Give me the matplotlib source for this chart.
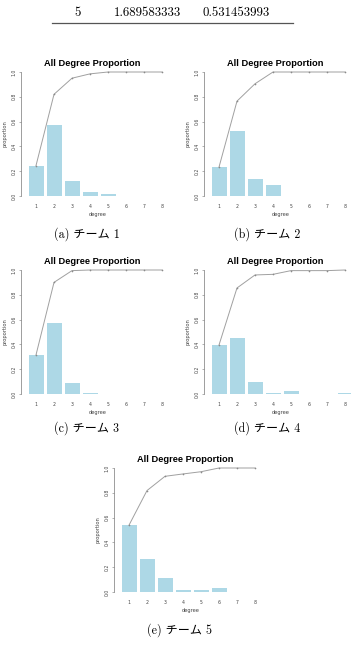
import numpy as np
import matplotlib
matplotlib.use("Agg")
import matplotlib.pyplot as plt

W, H = 351, 652

degrees = [1, 2, 3, 4, 5, 6, 7, 8]
captions = ["(a) チーム 1", "(b) チーム 2", "(c) チーム 3", "(d) チーム 4", "(e) チーム 5"]

# proportion of each degree (bars) and running total (line), one list per team
prop_a = [0.245, 0.570, 0.125, 0.035, 0.015, 0.0, 0.0, 0.0]
cum_a = [0.245, 0.820, 0.950, 0.985, 1.0, 1.0, 1.0, 1.0]
prop_b = [0.233, 0.523, 0.140, 0.091, 0.0, 0.0, 0.0, 0.0]
cum_b = [0.233, 0.765, 0.905, 1.0, 1.0, 1.0, 1.0, 1.0]
prop_c = [0.315, 0.573, 0.086, 0.008, 0.0, 0.0, 0.0, 0.0]
cum_c = [0.315, 0.900, 0.995, 1.0, 1.0, 1.0, 1.0, 1.0]
prop_d = [0.395, 0.452, 0.094, 0.005, 0.022, 0.0, 0.0, 0.005]
cum_d = [0.395, 0.855, 0.960, 0.965, 0.995, 0.995, 0.995, 1.0]
prop_e = [0.539, 0.268, 0.115, 0.013, 0.013, 0.030, 0.0, 0.0]
cum_e = [0.539, 0.818, 0.933, 0.952, 0.970, 1.0, 1.0, 1.0]

# table row above the figures
table_row = ["5", "1.689583333", "0.531453993"]

props = [prop_a, prop_b, prop_c, prop_d, prop_e]
cums = [cum_a, cum_b, cum_c, cum_d, cum_e]

# pixel anchors: x of the "1" tick, y of the 0.0 tick
anchors = [(36, 196), (219, 196), (36, 394), (219, 394), (129, 592)]
caption_xy = [(87, 234), (267, 234), (86, 428), (267, 428), (180, 630)]

STEP = 18     # px per degree
UNIT = 124    # px for proportion 0 -> 1
serif = ["cmr10", "Noto Sans CJK JP"]

fig = plt.figure(figsize=(W / 100, H / 100), dpi=100)


def fx(p):
    return p / W


def fy(p):
    return 1 - p / H


# table text and rule
for txt, x in zip(table_row, [78, 148, 236]):
    fig.text(fx(x), fy(13), txt, ha="center", va="center", fontsize=9.2, family=serif)
fig.add_artist(plt.Line2D([fx(52), fx(293)], [fy(23), fy(23)], color="#555555", lw=0.9))

for (t1, z), prop, cum, cap, (cx, cy) in zip(anchors, props, cums, captions, caption_xy):
    left_px = t1 - 15
    right_px = t1 + 7 * STEP + 13
    pad = 0.04
    bot_px = z + pad * UNIT
    top_px = z - (1 + pad) * UNIT
    ax = fig.add_axes([fx(left_px), fy(bot_px), (right_px - left_px) / W, (bot_px - top_px) / H])
    ax.set_xlim(1 - 15 / STEP, 8 + 13 / STEP)
    ax.set_ylim(-pad, 1 + pad)

    ax.bar(degrees, prop, width=15 / STEP, color="#add8e6", edgecolor="none")
    ax.plot(degrees, cum, color="#a0a0a0", lw=0.7, marker="o", ms=1.2, mfc="#8a8a8a", mec="none")

    for s in ["top", "right", "bottom"]:
        ax.spines[s].set_visible(False)
    ax.spines["left"].set_bounds(0, 1)
    ax.spines["left"].set_color("#777777")
    ax.spines["left"].set_linewidth(0.5)

    ax.set_xticks(degrees)
    ax.set_xticklabels([str(d) for d in degrees], fontsize=3.3, color="#444444")
    ax.tick_params(axis="x", length=0, pad=2.2)
    ax.set_yticks([0, 0.2, 0.4, 0.6, 0.8, 1.0])
    ax.set_yticklabels(["0.0", "0.2", "0.4", "0.6", "0.8", "1.0"], fontsize=3.3,
                       color="#444444", rotation=90, va="center")
    ax.tick_params(axis="y", length=1.8, width=0.4, color="#777777", pad=1.5)
    ax.set_xlabel("degree", fontsize=3.7, color="#444444", labelpad=1.8)
    ax.set_ylabel("proportion", fontsize=3.7, color="#444444", labelpad=2.5)
    ax.patch.set_visible(False)

    tc = (t1 + t1 + 7 * STEP) / 2 - 7
    fig.text(fx(tc), fy(z - UNIT - 9), "All Degree Proportion", ha="center", va="center",
             fontsize=6.7, fontweight="bold", family="Liberation Sans")
    fig.text(fx(cx), fy(cy), cap, ha="center", va="center", fontsize=8.7, family=serif)

fig.savefig("out.png", dpi=100)
